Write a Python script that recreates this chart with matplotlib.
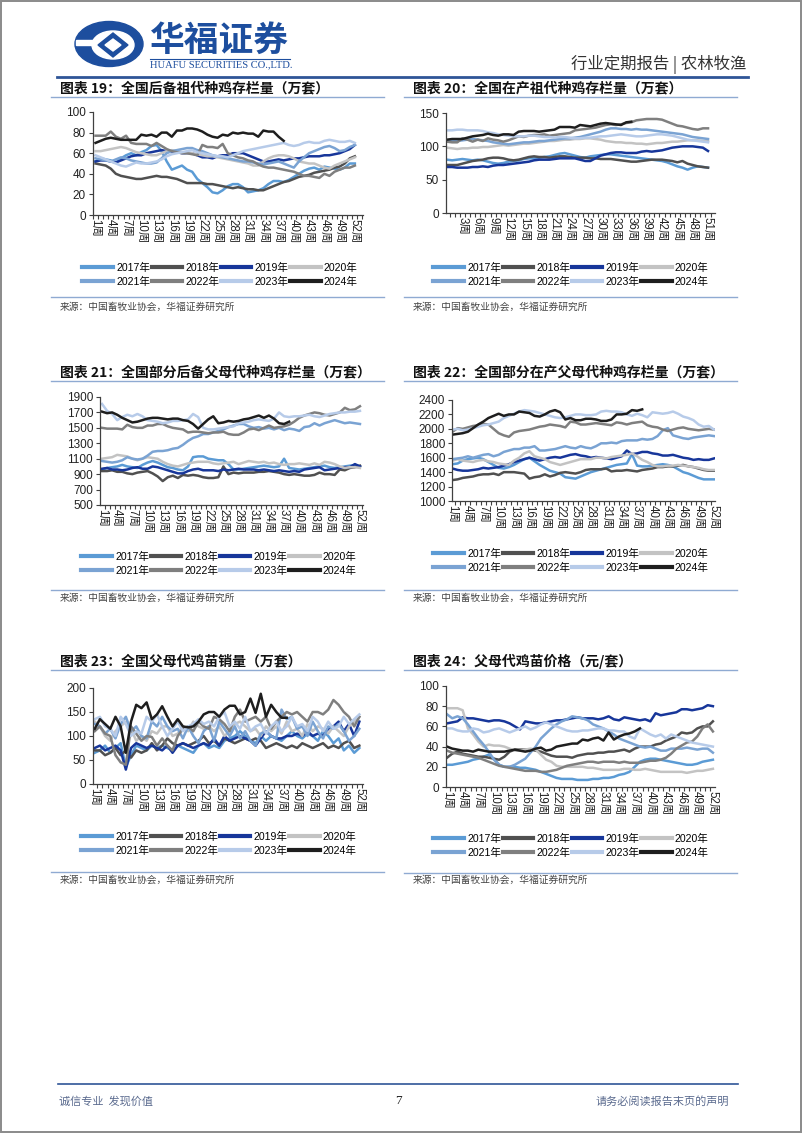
import numpy as np
import matplotlib
matplotlib.use("Agg")
import matplotlib.pyplot as plt
from matplotlib.font_manager import FontProperties
from matplotlib.lines import Line2D
from matplotlib.patches import Ellipse, Polygon, Rectangle

plt.rcParams['font.family'] = ['Liberation Sans', 'Noto Sans CJK SC', 'DejaVu Sans']

W, H = 802, 1133

years = ["2017年", "2018年", "2019年", "2020年", "2021年", "2022年", "2023年", "2024年"]
colors = ["#5B9BD5", "#505050", "#17369A", "#C3C3C3", "#7AA3D3", "#7F7F7F", "#B7CBE9", "#1E1E1E"]

# ---------------- Chart 19 ----------------
c19_2017 = [52,55,54,53,51,55,58,60,58,61, 63,67,68,62,52,44,46,48,44,42, 35,31,27,22,21,24,28,30,30,27,
            22,23,24,26,30,33,33,32,34,37, 40,43,45,46,44,47,46,45,44,46, 50,50]
c19_2018 = [50,49,48,45,40,38,37,36,35,35, 36,37,38,37,37,36,35,33,31,31, 31,31,30,30,29,28,27,26,27,26,
            25,25,24,24,26,28,30,32,33,35, 37,38,39,41,42,43,44,46,47,50, 55,57]
c19_2019 = [52,53,53,52,51,53,55,57,58,58, 60,61,62,63,62,61,61,60,60,60, 58,56,56,55,57,58,58,60,60,60,
            58,56,54,52,52,53,54,53,54,55, 55,56,57,57,57,58,58,59,60,62, 64,68]
c19_2020 = [62,62,63,64,65,66,65,63,61,60, 59,58,58,60,62,63,62,61,60,60, 59,58,57,57,56,55,54,53,52,51,
            50,48,48,52,55,57,58,58,57,55, 52,51,50,50,48,46,45,48,50,52, 54,56]
c19_2021 = [55,54,53,52,54,56,55,53,52,51, 50,50,51,55,60,62,63,64,65,65, 63,62,60,58,57,56,55,54,53,52,
            52,51,50,49,50,51,52,50,48,46, 52,56,60,62,64,66,67,65,62,63, 66,68]
c19_2022 = [77,77,77,81,76,74,77,70,69,69, 69,67,70,67,64,62,61,60,60,59, 58,68,66,66,65,69,60,58,56,55,
            53,52,49,47,46,46,45,44,43,42, 40,38,38,37,36,40,38,42,44,46, 46,48]
c19_2023 = [58,56,54,52,50,48,47,49,51,50, 50,51,52,54,57,59,60,61,62,63, 61,60,59,58,57,57,56,58,60,62,
            63,64,65,66,67,68,69,70,68,67, 68,70,71,70,70,72,73,72,71,71, 72,70]
c19_2024 = [70,72,74,75,74,73,73,73,73,78, 77,78,76,80,80,76,82,82,84,84, 83,81,78,76,75,78,77,80,79,80,
            79,79,76,82,81,81,76,72]

# ---------------- Chart 20 ----------------
c20_2017 = [80,79,80,81,80,79,80,79,77,75, 74,75,77,78,79,81,82,82,83,84, 85,87,89,90,88,86,84,83,85,86,
            87,88,88,87,86,85,84,83,82,81, 80,79,78,76,73,70,68,65,68,70, 69,68]
c20_2018 = [72,72,72,74,76,78,79,80,82,83, 83,82,80,79,80,82,84,85,84,84, 83,84,85,85,84,83,83,83,82,82,
            81,81,81,80,79,78,77,77,78,79, 80,80,80,79,78,76,78,74,72,70, 69,68]
c20_2019 = [69,69,68,68,68,69,69,70,69,71, 72,72,73,74,75,76,77,79,80,80, 80,81,82,82,82,82,80,78,78,82,
            86,88,90,91,91,90,90,90,92,93, 92,93,94,96,98,99,100,100,100,99, 98,93]
c20_2020 = [98,97,96,97,97,98,98,99,99,100, 101,102,101,102,103,104,104,105,106,107, 108,108,109,110,110,111,111,112,112,111,
            110,108,107,106,106,105,105,104,104,103, 104,105,105,106,107,107,108,109,109,109, 108,108]
c20_2021 = [109,108,108,109,110,111,110,109,108,106, 105,104,103,104,105,106,106,107,108,108, 109,110,111,112,112,113,114,116,118,120,
            122,125,127,127,126,126,125,126,125,125, 124,123,122,121,120,119,118,116,114,113, 112,111]
c20_2022 = [107,106,106,112,110,107,110,108,112,110, 109,107,109,112,115,114,116,117,117,118, 116,117,118,119,120,124,125,126,127,128,
            130,132,133,132,133,135,136,139,140,141, 141,141,140,137,134,131,130,128,126,125, 127,127]
c20_2023 = [124,124,125,125,124,124,124,123,121,120, 118,117,116,115,115,115,116,116,115,114, 114,113,114,114,113,112,112,113,113,114,
            115,115,116,117,118,117,116,115,115,116, 117,118,118,117,116,114,112,110,109,108, 107,106]
c20_2024 = [110,111,111,111,113,115,116,117,119,117, 116,118,118,117,122,123,123,123,122,123, 124,125,129,129,129,128,132,131,130,132,
            134,135,134,133,132,136,137]

# ---------------- Chart 21 ----------------
c21_2017 = [960,980,990,1000,1020,1000,990,980,1020,1050, 1070,1050,1020,990,980,960,950,1000,1120,1130,
            1130,1100,1090,1080,1080,1030,960,960,970,980, 990,1000,1010,1000,990,1000,1100,980,970,960,
            970,980,990,1000,1010,990,980,990,1000,1010, 1020,1000]
c21_2018 = [940,940,950,930,930,910,900,920,930,940, 910,870,810,860,880,850,890,880,890,880,
            860,850,850,860,1000,900,920,910,920,920, 920,930,930,940,930,920,900,890,900,890,
            880,880,890,920,900,900,890,960,950,980, 990,1010]
c21_2019 = [970,980,960,960,950,960,980,990,970,970, 1000,990,970,950,930,910,910,940,960,970,
            950,950,950,940,960,950,960,970,960,960, 960,950,960,950,940,950,940,930,940,930,
            960,970,980,990,950,960,970,980,990,990, 1030,1000]
c21_2020 = [1100,1110,1120,1150,1140,1130,1100,1080,1100,1120, 1110,1100,1060,1030,1010,1000,1020,1040,1050,1060,
            1060,1060,1040,1030,1040,1050,1060,1030,1050,1070, 1060,1050,1060,1040,1050,1030,1020,1030,1030,1040,
            1030,1020,1040,1020,1060,1050,1030,1000,980,990, 990,980]
c21_2021 = [1070,1060,1050,1060,1080,1120,1100,1090,1100,1140, 1190,1200,1200,1210,1230,1240,1280,1330,1370,1390,
            1420,1420,1440,1460,1480,1510,1530,1550,1550,1520, 1500,1510,1490,1500,1480,1500,1470,1490,1480,1460,
            1510,1520,1560,1530,1560,1580,1600,1580,1560,1570, 1560,1550]
c21_2022 = [1500,1490,1490,1490,1480,1540,1510,1500,1500,1530, 1530,1550,1550,1520,1500,1490,1480,1440,1450,1450,
            1440,1430,1440,1440,1450,1420,1410,1410,1440,1480, 1490,1470,1500,1530,1500,1510,1520,1540,1580,1630,
            1660,1680,1700,1690,1670,1660,1680,1700,1760,1730, 1740,1780]
c21_2023 = [1810,1720,1680,1600,1640,1670,1650,1680,1650,1600, 1590,1580,1560,1570,1590,1590,1600,1610,1680,1640,
            1500,1480,1480,1490,1500,1510,1520,1560,1570,1580, 1600,1610,1600,1590,1620,1700,1650,1640,1650,1650,
            1660,1670,1650,1640,1660,1680,1690,1700,1700,1710, 1710,1720]
c21_2024 = [1710,1690,1700,1670,1630,1600,1570,1580,1600,1620, 1630,1630,1620,1610,1620,1620,1600,1590,1550,1490,
            1550,1610,1650,1560,1570,1590,1580,1590,1610,1620, 1640,1660,1630,1660,1620,1560,1550,1580]

# ---------------- Chart 22 ----------------
c22_2017 = [1510,1520,1560,1580,1590,1600,1580,1540,1500,1460, 1450,1470,1500,1540,1580,1600,1550,1500,1460,1420,
            1400,1380,1330,1320,1310,1340,1370,1400,1420,1440, 1460,1480,1500,1510,1520,1650,1490,1480,1480,1490,
            1500,1510,1500,1480,1440,1400,1380,1350,1320,1300, 1300,1300]
c22_2018 = [1290,1300,1320,1330,1340,1360,1370,1370,1380,1360, 1400,1400,1400,1390,1380,1310,1330,1340,1370,1340,
            1360,1390,1400,1390,1380,1400,1430,1440,1440,1440, 1450,1410,1420,1420,1430,1420,1410,1430,1440,1450,
            1470,1470,1480,1480,1490,1500,1480,1470,1450,1430, 1420,1420]
c22_2019 = [1450,1430,1420,1420,1430,1440,1460,1450,1460,1470, 1490,1510,1540,1560,1580,1600,1580,1560,1580,1600,
            1610,1600,1620,1640,1650,1630,1620,1600,1610,1600, 1590,1580,1600,1620,1700,1650,1660,1680,1680,1660,
            1650,1630,1630,1640,1620,1600,1590,1570,1580,1570, 1570,1590]
c22_2020 = [1560,1580,1560,1550,1540,1560,1570,1550,1540,1520, 1510,1500,1560,1600,1660,1690,1620,1600,1580,1540,
            1520,1500,1520,1540,1560,1580,1580,1580,1600,1600, 1590,1610,1620,1630,1640,1660,1620,1570,1540,1500,
            1480,1480,1490,1490,1500,1490,1480,1470,1460,1440, 1430,1430]
c22_2021 = [1580,1590,1600,1620,1600,1620,1640,1650,1620,1640, 1680,1700,1720,1720,1740,1740,1760,1700,1700,1710,
            1720,1740,1760,1740,1730,1760,1740,1730,1760,1800, 1800,1810,1800,1830,1840,1840,1840,1860,1850,1860,
            1900,1980,2010,1910,1890,1870,1860,1880,1890,1900, 1910,1900]
c22_2022 = [1960,2010,2000,2020,2040,2050,2070,2060,2000,1940, 1910,1890,1950,1970,1980,1990,2010,2030,2040,2060,
            2050,2040,2020,2100,2090,2060,2060,2070,2080,2070, 2060,2050,2090,2080,2060,2080,2090,2100,2050,2030,
            2020,1990,1970,1990,2010,2020,2000,1990,1980,1990, 2000,1990]
c22_2023 = [1990,2000,1980,1990,2010,2030,2050,2060,2080,2100, 2150,2180,2210,2240,2260,2250,2240,2220,2200,2180,
            2160,2150,2160,2180,2200,2200,2190,2190,2200,2240, 2250,2240,2240,2230,2200,2180,2210,2190,2160,2230,
            2220,2210,2220,2240,2210,2170,2150,2120,2060,2030, 2040,1990]
c22_2024 = [1920,1930,1940,1960,2010,2060,2100,2150,2180,2210, 2180,2200,2200,2240,2230,2220,2180,2170,2200,2240,
            2260,2230,2130,2150,2120,2120,2140,2140,2130,2110, 2110,2130,2200,2200,2210,2260,2250,2270]

# ---------------- Chart 23 ----------------
c23_2017 = [65,70,80,65,75,85,35,60,80,75, 70,80,75,80,75,70,80,75,70,65, 80,85,75,80,75,90,95,100,110,100,
            90,85,100,90,100,95,90,100,110,100, 95,105,100,90,110,100,85,95,70,80, 65,75]
c23_2018 = [70,70,60,65,75,60,70,55,70,65, 70,85,70,80,95,85,80,85,80,85, 90,100,85,90,80,95,90,85,90,95,
            90,95,90,75,80,85,80,75,80,75, 85,80,75,80,85,75,80,75,85,90, 75,80]
c23_2019 = [75,80,70,75,80,70,30,75,85,80, 75,80,75,70,80,65,80,85,80,75, 80,85,80,95,80,100,90,95,100,95,
            90,80,95,110,100,95,95,100,100,105, 100,110,100,105,100,115,120,130,110,125, 100,130]
c23_2020 = [130,120,100,90,110,120,130,115,90,100, 90,110,105,120,120,100,105,120,110,130, 120,115,120,110,120,100,110,125,130,120,
            110,115,100,120,110,120,105,130,110,115, 100,125,110,120,115,105,120,110,100,120, 130,140]
c23_2021 = [125,120,105,115,95,125,140,110,120,100, 95,130,120,140,120,110,115,95,120,100, 85,110,120,90,130,115,100,120,95,110,
            90,80,105,110,100,95,155,135,140,115, 120,100,130,110,95,120,115,125,110,90, 100,115]
c23_2022 = [110,120,105,100,60,45,40,120,105,90, 100,98,80,95,80,70,100,115,120,110, 130,120,115,140,135,125,110,140,155,130,
            135,140,130,140,115,130,140,150,145,150, 140,130,150,150,145,155,175,165,150,140, 120,140]
c23_2023 = [135,140,120,115,100,140,125,100,110,105, 140,130,145,120,100,115,130,110,120,125, 135,125,130,120,140,150,120,130,115,140,
            110,120,125,105,120,130,110,120,140,120, 125,110,140,130,110,130,115,120,140,125, 135,145]
c23_2024 = [115,135,125,115,140,120,65,130,165,158, 170,135,145,162,140,120,135,120,118,120, 130,145,150,150,140,155,163,163,145,150,
            178,148,188,140,165,150,138,138]

# ---------------- Chart 24 ----------------
c24_2017 = [22,22,23,24,25,27,28,30,32,28, 22,20,20,20,19,19,18,17,15,13, 11,9,8,8,8,7,7,7,8,8,
            9,9,10,12,13,15,20,25,27,28, 28,27,26,25,24,23,22,22,23,25, 26,27]
c24_2018 = [29,33,35,33,32,31,30,30,29,28, 27,30,35,37,37,37,37,36,35,33, 31,30,30,30,29,31,32,33,33,34,
            34,35,35,36,37,35,38,40,40,40, 42,43,46,48,50,54,53,54,58,60, 60,65]
c24_2019 = [63,64,65,69,68,68,67,66,65,66, 66,65,63,60,57,65,64,63,63,64, 65,66,66,67,68,69,68,68,68,67,
            68,70,67,66,69,68,67,66,67,65, 73,71,72,73,74,77,77,76,77,78, 81,80]
c24_2020 = [78,78,78,76,58,52,45,40,42,41, 41,40,38,36,36,37,38,37,32,27, 25,21,20,20,20,20,20,19,19,18,
            17,17,17,17,18,18,17,17,18,17, 16,15,15,15,15,15,14,15,16,16, 17,18]
c24_2021 = [72,68,70,68,62,55,48,42,35,27, 22,20,20,22,25,28,34,40,48,53, 58,62,65,67,70,69,68,66,62,60,
            58,55,52,48,46,44,42,40,39,40, 38,36,36,38,38,38,39,38,37,38, 38,34]
c24_2022 = [36,34,33,32,31,30,29,27,25,23, 21,20,19,18,17,16,16,16,15,15, 16,17,19,21,22,23,24,25,25,24,
            25,25,25,24,25,24,24,24,25,26, 26,27,29,33,38,41,44,45,50,58, 62,55]
c24_2023 = [58,58,56,55,55,58,57,54,55,57, 58,56,54,56,58,60,57,59,62,64, 62,60,58,56,55,55,56,56,57,58,
            58,56,56,55,55,50,48,58,55,52, 50,52,48,52,50,48,46,44,43,42, 41,40]
c24_2024 = [40,38,37,36,36,35,37,36,35,35, 35,35,36,37,36,35,36,38,39,36, 37,40,41,42,43,43,47,46,48,49,
            46,54,47,50,52,53,55,58]

titles = ["图表 19：全国后备祖代种鸡存栏量（万套）", "图表 20：全国在产祖代种鸡存栏量（万套）",
          "图表 21：全国部分后备父母代种鸡存栏量（万套）", "图表 22：全国部分在产父母代种鸡存栏量（万套）",
          "图表 23：全国父母代鸡苗销量（万套）", "图表 24：父母代鸡苗价格（元/套）"]
source_text = "来源：中国畜牧业协会，华福证券研究所"

week_labels = [f"{i}周" for i in range(1, 53)]

fig = plt.figure(figsize=(W / 100, H / 100), dpi=100)
bg = fig.add_axes([0, 0, 1, 1])
bg.set_xlim(0, W)
bg.set_ylim(H, 0)
bg.axis('off')

cjk = ['Noto Sans CJK SC', 'DejaVu Sans']
mixed = ['Liberation Sans', 'Noto Sans CJK SC', 'DejaVu Sans']

# page border
bg.add_patch(Rectangle((0.8, 0.8), W - 1.6, H - 1.6, fill=False, ec="#8A8A8A", lw=1.4))

# header logo
blue = "#1D4E9E"
bg.add_patch(Ellipse((109, 44), 68, 45, color=blue, zorder=2))
bg.add_patch(Ellipse((113, 45), 42, 28, color="white", zorder=3))
bg.add_patch(Polygon([(113, 33), (128, 45), (113, 57), (98, 45)], closed=True, color=blue, zorder=4))
bg.add_patch(Polygon([(113, 39), (121, 45), (113, 51), (105, 45)], closed=True, color="white", zorder=5))
bg.add_patch(Rectangle((76, 40), 18, 5, color="white", zorder=3))
bg.text(150, 40, "华福证券", fontsize=25, fontweight='bold', color=blue, family=cjk, va='center', ha='left')
bg.plot([150, 290], [58.5, 58.5], color=blue, lw=0.8)
bg.text(150, 65, "HUAFU SECURITIES CO.,LTD.", fontsize=7.6, color=blue, family=['Liberation Serif'],
        va='center', ha='left')
bg.text(746, 64, "行业定期报告 | 农林牧渔", fontsize=11.8, color="#333333", family=cjk, va='center', ha='right')
bg.plot([57, 748], [77, 77], color="#2F5597", lw=2)

# footer
bg.plot([58, 738], [1084, 1084], color="#2F5597", lw=1.2)
bg.text(59, 1101, "诚信专业  发现价值", fontsize=8, color="#5A6A8E", family=cjk, va='center', ha='left')
bg.text(398, 1101, "7", fontsize=9.5, color="#222222", family=['Liberation Serif'], va='center', ha='center')
bg.text(729, 1101, "请务必阅读报告末页的声明", fontsize=8, color="#5A6A8E", family=cjk, va='center', ha='right')

panels = [
    dict(series=[c19_2017, c19_2018, c19_2019, c19_2020, c19_2021, c19_2022, c19_2023, c19_2024],
         box=(93, 112, 363, 215), ylim=(0, 100), step=20, xlim=(-0.5, 52.6),
         lab=list(range(0, 52, 3)), labtxt=None,
         title=(60, 88), tline=(51, 384, 97), leg=(220, 275), src=(60, 307), sline=(51, 384, 297)),
    dict(series=[c20_2017, c20_2018, c20_2019, c20_2020, c20_2021, c20_2022, c20_2023, c20_2024],
         box=(446, 113, 715, 213), ylim=(0, 150), step=50, xlim=(-0.2, 52.36),
         lab=list(range(3, 52, 3)), labtxt=[f"{i}周" for i in range(3, 52, 3)],
         title=(413, 88), tline=(404, 737, 97), leg=(571, 275), src=(413, 307), sline=(404, 737, 297)),
    dict(series=[c21_2017, c21_2018, c21_2019, c21_2020, c21_2021, c21_2022, c21_2023, c21_2024],
         box=(100, 397, 363, 505), ylim=(500, 1900), step=200, xlim=(-0.4, 51.6),
         lab=list(range(0, 52, 3)), labtxt=None,
         title=(60, 372), tline=(51, 384, 381), leg=(219, 564), src=(60, 598), sline=(51, 384, 590)),
    dict(series=[c22_2017, c22_2018, c22_2019, c22_2020, c22_2021, c22_2022, c22_2023, c22_2024],
         box=(452, 400, 715, 501), ylim=(1000, 2400), step=200, xlim=(-0.1, 51.2),
         lab=list(range(0, 52, 3)), labtxt=None,
         title=(413, 372), tline=(404, 737, 381), leg=(571, 561), src=(413, 598), sline=(404, 737, 590)),
    dict(series=[c23_2017, c23_2018, c23_2019, c23_2020, c23_2021, c23_2022, c23_2023, c23_2024],
         box=(93, 688, 363, 784), ylim=(0, 200), step=50, xlim=(-0.33, 51.7),
         lab=list(range(0, 52, 3)), labtxt=None,
         title=(60, 661), tline=(51, 384, 670), leg=(219, 844), src=(60, 880), sline=(51, 384, 872)),
    dict(series=[c24_2017, c24_2018, c24_2019, c24_2020, c24_2021, c24_2022, c24_2023, c24_2024],
         box=(446, 686, 715, 787), ylim=(0, 100), step=20, xlim=(-0.2, 51.4),
         lab=list(range(0, 52, 3)), labtxt=None,
         title=(413, 661), tline=(404, 737, 670), leg=(571, 846), src=(413, 880), sline=(404, 737, 873)),
]

legend_prop = FontProperties(family=mixed, size=7.6)
order = [0, 4, 1, 5, 2, 6, 3, 7]

for i, p in enumerate(panels):
    x0, yt, x1, yb = p['box']
    ax = fig.add_axes([x0 / W, 1 - yb / H, (x1 - x0) / W, (yb - yt) / H])
    ax.patch.set_alpha(0)
    for s, c, lbl in zip(p['series'], colors, years):
        ax.plot(np.arange(len(s)), s, color=c, lw=1.8, solid_joinstyle='round', label=lbl)
    ax.set_xlim(*p['xlim'])
    ax.set_ylim(*p['ylim'])
    ax.set_yticks(np.arange(p['ylim'][0], p['ylim'][1] + 1, p['step']))
    ax.tick_params(axis='y', labelsize=8.5, length=3, width=0.8, color="#404040", pad=2, labelcolor="#222222")
    labtxt = p['labtxt'] if p['labtxt'] is not None else [week_labels[k] for k in p['lab']]
    ax.set_xticks(p['lab'])
    ax.set_xticklabels(labtxt, rotation=-90, fontsize=8.3, family=mixed, color="#222222")
    ax.tick_params(axis='x', length=0, pad=3)
    ax.set_xticks(np.arange(np.ceil(p['xlim'][0] + 0.5) - 0.5, p['xlim'][1], 1), minor=True)
    ax.tick_params(axis='x', which='minor', length=3, width=0.8, color="#404040")
    for sp in ['top', 'right']:
        ax.spines[sp].set_visible(False)
    for sp in ['left', 'bottom']:
        ax.spines[sp].set_color("#404040")
        ax.spines[sp].set_linewidth(0.9)
    for t in ax.get_yticklabels():
        t.set_family(['Liberation Sans'])

    tx, ty = p['title']
    bg.text(tx, ty, titles[i], fontsize=10, fontweight='bold', family=cjk, color="#111111",
            va='center', ha='left')
    lx0, lx1, ly = p['tline']
    bg.plot([lx0, lx1], [ly, ly], color="#8FAAD2", lw=1.0)
    sx0, sx1, sy = p['sline']
    bg.plot([sx0, sx1], [sy, sy], color="#8FAAD2", lw=1.0)
    srx, sry = p['src']
    bg.text(srx, sry, source_text, fontsize=7, family=cjk, color="#444444", va='center', ha='left')

    legh = [Line2D([0], [0], color=colors[k], lw=3) for k in order]
    legl = [years[k] for k in order]
    cx, cy = p['leg']
    fig.legend(legh, legl, ncol=4, loc='center', bbox_to_anchor=(cx / W, 1 - cy / H),
               frameon=False, prop=legend_prop, handlelength=2.9, handletextpad=0.3,
               columnspacing=0.15, labelspacing=0.35, borderpad=0)

fig.savefig("out.png", dpi=100)
